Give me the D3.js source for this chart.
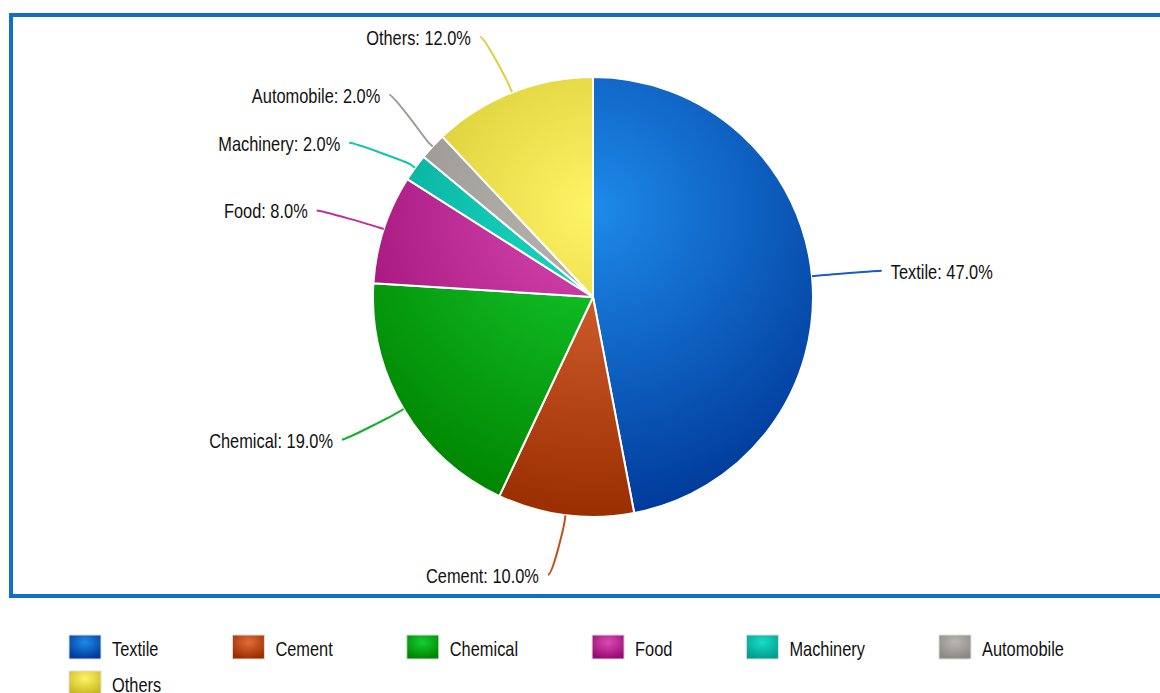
<!DOCTYPE html>
<html lang="en">
<head>
<meta charset="utf-8">
<title>Industry share</title>
<script src="https://cdn.jsdelivr.net/npm/d3@7"></script>
<style>
  html, body { margin: 0; padding: 0; background: #fff; }
  svg { display: block; font-family: "Liberation Sans", Arial, sans-serif; }
  .label, .legend text { font-size: 20px; fill: #111; }
</style>
</head>
<body>
<svg width="1160" height="693"></svg>
<script>
// data
var categories = ['Textile', 'Cement', 'Chemical', 'Food', 'Machinery', 'Automobile', 'Others'];
var shares = [47, 10, 19, 8, 2, 2, 12];
var baseColors = ['#1e8aea', '#e26c3a', '#16ce32', '#da4ab2', '#1adcc6', '#bab6b2', '#fff466'];
var darkColors = ['#003a9a', '#9a2e00', '#008400', '#980a72', '#009e8e', '#8c8884', '#c8b820'];
var lineColors = ['#1a5cc4', '#c0501e', '#10b02a', '#c0309a', '#12c4b0', '#a09c98', '#e0d040'];

var svg = d3.select('svg'),
  width = +svg.attr('width'),
  height = +svg.attr('height');

var cx = 593, cy = 297, radius = 220;
var labelDist = 60, padding = 10;
var narrow = 0.82; // squeeze text to a condensed look

var defs = svg.append('defs');

// plot frame
svg.append('rect')
  .attr('x', 11).attr('y', 15)
  .attr('width', width + 20).attr('height', 581)
  .attr('fill', 'none')
  .attr('stroke', '#1270c4')
  .attr('stroke-width', 4);

var data = categories.map(function(c, i) {
  return { name: c, value: shares[i], i: i };
});

// slice gradients, placed like a highcharts radial gradient on the pie box
data.forEach(function(d) {
  var g = defs.append('radialGradient')
    .attr('id', 'grad' + d.i)
    .attr('gradientUnits', 'userSpaceOnUse')
    .attr('cx', 0).attr('cy', -radius + 0.3 * 2 * radius)
    .attr('r', 0.7 * 2 * radius);
  g.append('stop').attr('offset', 0).attr('stop-color', baseColors[d.i]);
  g.append('stop').attr('offset', 1).attr('stop-color', darkColors[d.i]);

  var lg = defs.append('radialGradient')
    .attr('id', 'lgrad' + d.i)
    .attr('cx', 0.5).attr('cy', 0.3).attr('r', 0.7);
  lg.append('stop').attr('offset', 0).attr('stop-color', baseColors[d.i]);
  lg.append('stop').attr('offset', 1).attr('stop-color', darkColors[d.i]);
});

var pie = d3.pie().sort(null).value(function(d) { return d.value; });
var arc = d3.arc().innerRadius(0).outerRadius(radius);
var arcs = pie(data);

var g = svg.append('g').attr('transform', 'translate(' + cx + ',' + cy + ')');

g.selectAll('path.slice')
  .data(arcs)
  .enter()
  .append('path')
  .attr('class', 'slice')
  .attr('d', arc)
  .attr('fill', function(d) { return 'url(#grad' + d.data.i + ')'; })
  .attr('stroke', '#fff')
  .attr('stroke-width', 2)
  .attr('stroke-linejoin', 'round');

// label positions
var R = radius + labelDist;
arcs.forEach(function(d) {
  d.mid = (d.startAngle + d.endAngle) / 2;
  d.left = Math.sin(d.mid) < 0;
  d.y = -R * Math.cos(d.mid);
});

// push overlapping labels apart on each side
function spread(list, minGap) {
  list.sort(function(a, b) { return a.y - b.y; });
  var moved = true, n = 0;
  while (moved && n < 50) {
    moved = false;
    n++;
    for (var k = 0; k < list.length - 1; k++) {
      var a = list[k], b = list[k + 1];
      var gap = b.y - a.y;
      if (gap < minGap) {
        var shift = (minGap - gap) / 2;
        a.y -= shift;
        b.y += shift;
        moved = true;
      }
    }
  }
}
spread(arcs.filter(function(d) { return d.left; }), 48);
spread(arcs.filter(function(d) { return !d.left; }), 48);

arcs.forEach(function(d) {
  var dir = d.left ? -1 : 1;
  var t = Math.max(-1, Math.min(1, d.y / R));
  d.x = dir * Math.cos(Math.asin(t)) * R + dir * padding;
  d.dir = dir;
});

// soft connectors
g.selectAll('path.connector')
  .data(arcs)
  .enter()
  .append('path')
  .attr('class', 'connector')
  .attr('fill', 'none')
  .attr('stroke', function(d) { return lineColors[d.data.i]; })
  .attr('stroke-width', 2)
  .attr('d', function(d) {
    var tx = radius * Math.sin(d.mid), ty = -radius * Math.cos(d.mid);
    var bx = (radius + 5) * Math.sin(d.mid), by = -(radius + 5) * Math.cos(d.mid);
    var p = d3.path();
    p.moveTo(d.x, d.y);
    p.bezierCurveTo(d.x - d.dir * 5, d.y, 2 * bx - tx, 2 * by - ty, bx, by);
    p.lineTo(tx, ty);
    return p.toString();
  });

g.selectAll('text.label')
  .data(arcs)
  .enter()
  .append('text')
  .attr('class', 'label')
  .attr('transform', function(d) {
    return 'translate(' + (d.x + d.dir * 9) + ',' + d.y + ') scale(' + narrow + ',1)';
  })
  .attr('dy', '0.4em')
  .attr('text-anchor', function(d) { return d.left ? 'end' : 'start'; })
  .text(function(d) { return d.data.name + ': ' + d.data.value.toFixed(1) + '%'; });

// legend
var legend = svg.append('g').attr('class', 'legend');
var lx = 69, ly = 635, itemGap = 74, rowH = 36;
data.forEach(function(d) {
  var item = legend.append('g');
  item.append('rect')
    .attr('width', 32).attr('height', 24)
    .attr('fill', 'url(#lgrad' + d.i + ')')
    .attr('stroke', '#ddd')
    .attr('stroke-width', 1);
  var t = item.append('text')
    .attr('transform', 'translate(43,12) scale(' + narrow + ',1)')
    .attr('dy', '0.45em')
    .text(d.name);
  var w = 43 + t.node().getComputedTextLength() * narrow;
  if (lx + w > width - 20) {
    lx = 69;
    ly += rowH;
  }
  item.attr('transform', 'translate(' + lx + ',' + ly + ')');
  lx += w + itemGap;
});
</script>
</body>
</html>
